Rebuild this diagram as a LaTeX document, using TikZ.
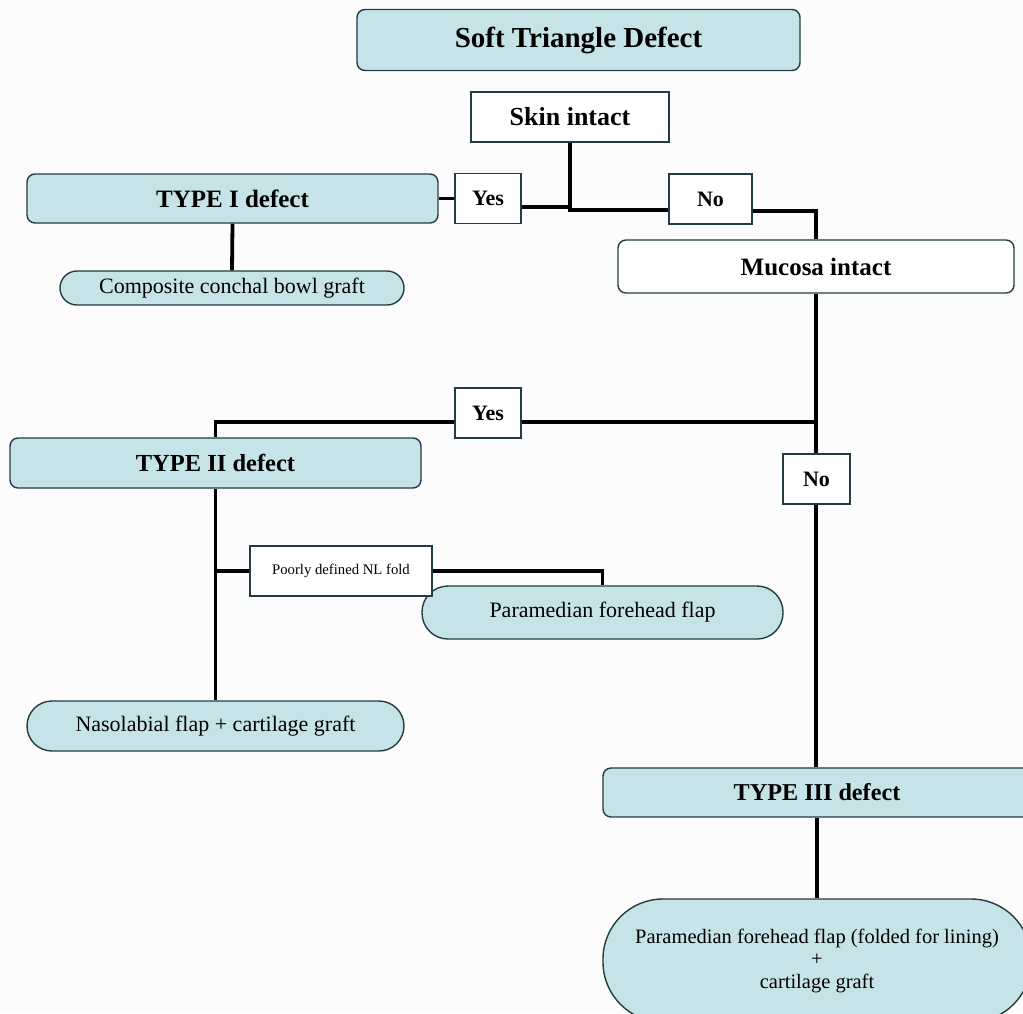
\documentclass[tikz,border=0pt]{standalone}
\usepackage{fontspec}
\setmainfont{Liberation Serif}
\usetikzlibrary{backgrounds}
\definecolor{boxblue}{RGB}{198,228,232}
\definecolor{edgecol}{RGB}{35,60,68}
\definecolor{bgcol}{RGB}{252,252,253}
\begin{document}
\begin{tikzpicture}[x=1pt,y=-1pt,
  box/.style={draw=edgecol, line width=1.4pt, inner sep=0pt, align=center},
  bluebox/.style={box, fill=boxblue, rounded corners=8pt},
  whitebox/.style={box, fill=white},
  ans/.style={whitebox, minimum height=50pt, font=\fontsize{22}{26}\selectfont\bfseries},
  head/.style={font=\fontsize{25}{30}\selectfont\bfseries},
  treat/.style={bluebox, font=\fontsize{22}{26}\selectfont},
  link/.style={line width=3.8pt, black},
]
\useasboundingbox (0,0) rectangle (1023,1013);

% nodes
\node[bluebox, minimum width=443pt, minimum height=61pt, font=\fontsize{29}{34}\selectfont\bfseries] (title) at (578.5,40) {Soft Triangle Defect};
\node[whitebox, minimum width=198pt, minimum height=50pt, font=\fontsize{26}{30}\selectfont\bfseries] (skin) at (570,117) {Skin intact};
\node[bluebox, head, minimum width=411pt, minimum height=49pt] (type1) at (232.5,198.5) {TYPE I defect};
\node[ans, minimum width=66pt] (yes1) at (488,198.5) {Yes};
\node[ans, minimum width=83pt] (no1) at (710.5,199) {No};
\node[whitebox, head, rounded corners=8pt, minimum width=396pt, minimum height=53pt] (mucosa) at (816,266.5) {Mucosa intact};
\node[treat, rounded corners=17pt, minimum width=344pt, minimum height=34pt] (comp) at (232,288) {Composite conchal bowl graft};
\node[ans, minimum width=66pt] (yes2) at (488,413) {Yes};
\node[bluebox, font=\fontsize{24.5}{30}\selectfont\bfseries, minimum width=411pt, minimum height=50pt] (type2) at (215.5,463) {TYPE II defect};
\node[ans, minimum width=67pt] (no2) at (816.5,479) {No};
\node[treat, rounded corners=26pt, minimum width=361pt, minimum height=53pt] (param) at (602.5,612.5) {Paramedian forehead flap};
\node[whitebox, minimum width=182pt, minimum height=50pt, font=\fontsize{14.7}{18}\selectfont] (poorly) at (341,571) {Poorly defined NL fold};
\node[treat, rounded corners=25pt, minimum width=377pt, minimum height=50pt] (naso) at (215.5,726) {Nasolabial flap + cartilage graft};
\node[bluebox, font=\fontsize{24.2}{30}\selectfont\bfseries, minimum width=428pt, minimum height=49pt] (type3) at (817,792.5) {TYPE III defect};
\node[treat, rounded corners=60pt, minimum width=428pt, minimum height=123pt, font=\fontsize{20.5}{22.5}\selectfont] (final) at (817,960.5) {Paramedian forehead flap (folded for lining)\\+\\cartilage graft};

\coordinate (j1) at (570,210);
\coordinate (j2) at (816,422);

\begin{scope}[on background layer]
  \fill[bgcol] (0,0) rectangle (1023,1013);
  \draw[link] (skin.south) -- (j1) -- (no1.west |- j1);
  \draw[link] ([yshift=-8.5pt]yes1.east) -| (j1);
  \draw[link] (type1.east) -- (yes1.west);
  \draw[link] ([yshift=-12pt]no1.east) -| (mucosa.north);
  \draw[link] (type1.south) -- (comp.north);
  \draw[link] (mucosa.south) -- (mucosa.south |- type3.north);
  \draw[link] (j2) -| (type2.north);
  \draw[link] (type2.south) -- (naso.north);
  \draw[link] (type2.south |- poorly.west) -- (poorly.west);
  \draw[link] (poorly.east) -| (param.north);
  \draw[link] (type3.south) -- (final.north);
\end{scope}
\end{tikzpicture}
\end{document}
